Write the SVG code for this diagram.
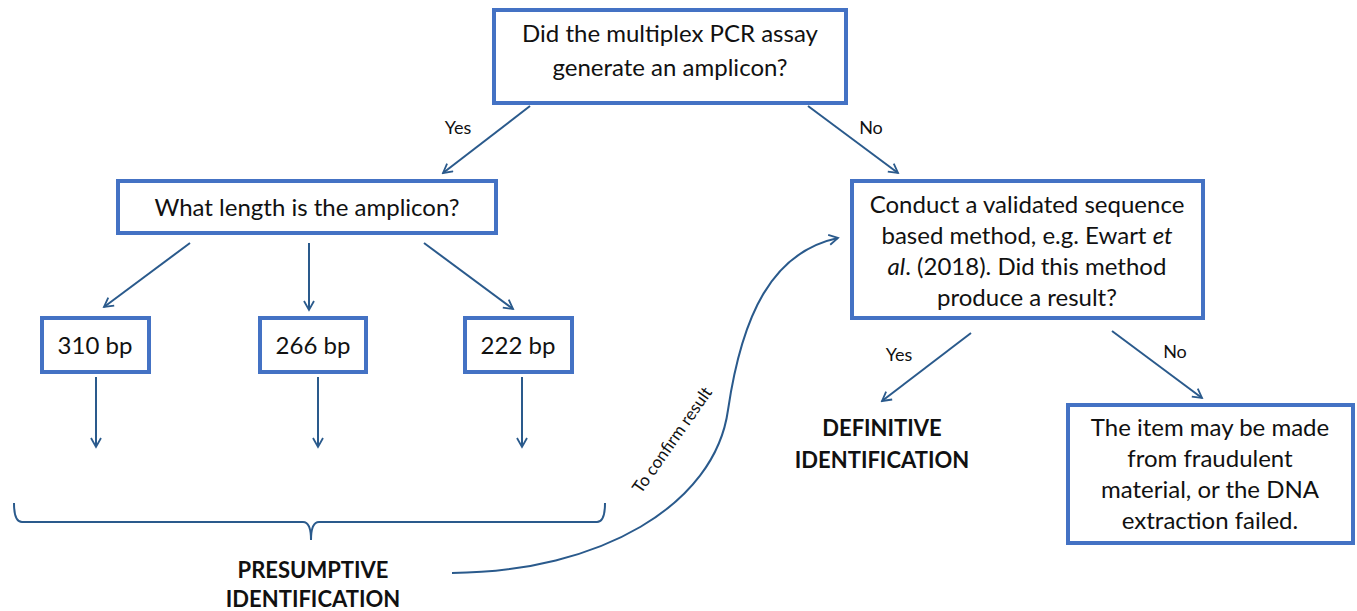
<svg xmlns="http://www.w3.org/2000/svg" width="1357" height="611" viewBox="0 0 1357 611">
<defs>
<marker id="ah" viewBox="0 0 12 12" refX="10" refY="6" markerWidth="12" markerHeight="12" markerUnits="userSpaceOnUse" orient="auto">
<path d="M1,1 L10,6 L1,11" fill="none" stroke="#2A5A8C" stroke-width="1.8"/>
</marker>
<style>
.box{fill:#fff;stroke:#4472C4;stroke-width:4}
.t{font-family:Lato,"Open Sans",sans-serif;font-size:24px;fill:#111;text-anchor:middle}
.b{font-family:Lato,"Open Sans",sans-serif;font-size:22px;font-weight:bold;fill:#111;text-anchor:middle}
.l{font-family:Lato,"Open Sans",sans-serif;font-size:18px;fill:#111;text-anchor:middle}
.r{font-family:Lato,"Open Sans",sans-serif;font-size:17px;fill:#111;text-anchor:middle}
.c{fill:none;stroke:#2A5A8C;stroke-width:2;marker-end:url(#ah)}
.br{fill:none;stroke:#2A5A8C;stroke-width:2}
</style>
</defs>
<rect width="1357" height="611" fill="#fff"/>
<g id="connectors">
<line class="c" x1="530" y1="106" x2="443" y2="173"/>
<line class="c" x1="808" y1="106" x2="898" y2="173"/>
<line class="c" x1="190" y1="243" x2="104" y2="307"/>
<line class="c" x1="309" y1="243" x2="309" y2="310"/>
<line class="c" x1="424" y1="243" x2="513" y2="309"/>
<line class="c" x1="96" y1="377" x2="96" y2="447"/>
<line class="c" x1="318" y1="377" x2="318" y2="447"/>
<line class="c" x1="522" y1="377" x2="522" y2="447"/>
<line class="c" x1="971" y1="333" x2="882" y2="401"/>
<line class="c" x1="1112" y1="331" x2="1202" y2="398"/>
<path class="c" d="M452,573 C600,572 715,505 728,410 C742,315 772,252 838,238"/>
<path class="br" d="M14,503 Q14,522 22,522 L303,522 Q311,522 311,540 Q311,522 319,522 L597,522 Q605,522 605,503"/>
<text class="l" x="458" y="134">Yes</text>
<text class="l" x="871" y="134">No</text>
<text class="l" x="899" y="361">Yes</text>
<text class="l" x="1175" y="358">No</text>
<text class="r" x="672" y="446" transform="rotate(-55 672 440)">To confirm result</text>
</g>
<g id="n1">
<rect class="box" x="494" y="10" width="352" height="93"/>
<text class="t" x="670" y="42">Did the multiplex PCR assay</text>
<text class="t" x="670" y="76">generate an amplicon?</text>
</g>
<g id="n2">
<rect class="box" x="118" y="181" width="378" height="52"/>
<text class="t" x="307" y="216">What length is the amplicon?</text>
</g>
<g id="n3">
<rect class="box" x="852" y="181" width="351" height="137"/>
<text class="t" x="1027" y="213">Conduct a validated sequence</text>
<text class="t" x="1027" y="244">based method, e.g. Ewart <tspan font-style="italic">et</tspan></text>
<text class="t" x="1027" y="275"><tspan font-style="italic">al</tspan>. (2018). Did this method</text>
<text class="t" x="1027" y="306">produce a result?</text>
</g>
<g id="n4">
<rect class="box" x="42" y="318" width="107" height="54"/>
<text class="t" x="95" y="354">310 bp</text>
</g>
<g id="n5">
<rect class="box" x="260" y="318" width="106" height="54"/>
<text class="t" x="313" y="354">266 bp</text>
</g>
<g id="n6">
<rect class="box" x="465" y="318" width="107" height="54"/>
<text class="t" x="518" y="354">222 bp</text>
</g>
<g id="n7">
<text class="b" x="882" y="436">DEFINITIVE</text>
<text class="b" x="882" y="468">IDENTIFICATION</text>
</g>
<g id="n8">
<rect class="box" x="1068" y="405" width="285" height="138"/>
<text class="t" x="1210" y="436">The item may be made</text>
<text class="t" x="1210" y="467">from fraudulent</text>
<text class="t" x="1210" y="498">material, or the DNA</text>
<text class="t" x="1210" y="529">extraction failed.</text>
</g>
<g id="n9">
<text class="b" x="313" y="578">PRESUMPTIVE</text>
<text class="b" x="313" y="607">IDENTIFICATION</text>
</g>
</svg>
